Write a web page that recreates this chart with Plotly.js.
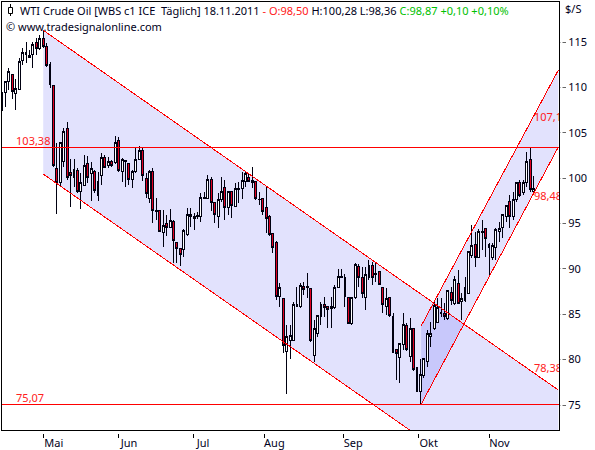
<!DOCTYPE html>
<html>
<head>
<meta charset="utf-8">
<script src="https://cdn.plot.ly/plotly-3.0.1.min.js"></script>
<style>html,body{margin:0;padding:0;background:#fff}#c{width:595px;height:450px}
.boxlayer path,.scatterlayer .js-line{shape-rendering:crispEdges !important}</style>
</head>
<body>
<div id="c"></div>
<script>
var opens = [108.1,109.4,110.6,111.4,109.3,109.8,113.0,113.6,113.3,113.6,
114.9,114.3,115.4,114.5,112.5,110.2,101.1,99.5,101.8,105.5,
100.6,100.1,100.8,98.5,99.2,101.6,100.5,100.7,98.1,100.3,
102.3,101.4,101.8,101.7,104.2,100.7,101.8,101.6,99.9,100.7,
102.1,103.1,100.0,97.8,100.7,96.4,96.4,94.0,95.0,94.6,
95.2,92.9,92.2,92.1,93.8,96.0,95.8,95.8,95.8,97.8,
97.8,99.8,97.3,95.8,97.7,99.0,96.8,98.5,96.9,98.8,
98.9,99.6,100.1,99.5,99.6,97.7,97.8,96.8,95.8,93.9,
92.9,87.0,86.7,80.9,82.1,82.1,85.9,85.8,88.1,87.9,
87.8,80.5,82.9,84.7,86.1,85.8,85.6,85.7,88.0,89.1,
89.1,86.8,84.0,86.8,90.3,89.0,86.9,89.0,90.4,89.5,
89.7,87.9,85.8,86.8,84.8,81.1,80.2,81.7,83.8,80.3,
83.4,79.1,76.5,78.2,79.8,82.5,83.4,84.1,85.1,85.1,
84.5,87.4,86.2,88.4,86.4,86.5,87.3,91.5,92.7,91.3,
94.0,94.5,92.7,91.3,92.4,94.1,94.6,95.8,97.4,95.8,
97.6,99.5,98.4,99.5,102.0,98.50];
var highs = [109.5,110.7,112.1,111.5,110.9,113.2,114.3,115.0,114.1,115.0,
115.4,115.8,116.3,114.9,112.8,110.2,103.9,103.9,105.5,106.2,
102.1,102.1,101.1,100.6,102.5,102.4,101.8,100.9,100.7,102.8,
102.5,102.3,102.0,104.6,104.5,102.2,101.9,101.7,100.9,103.4,
103.5,103.3,100.6,100.9,101.1,97.8,96.5,96.5,95.9,96.6,
95.4,92.9,92.2,94.4,96.7,96.7,96.2,96.3,98.4,98.5,
100.3,100.1,97.4,98.4,100.1,99.8,98.5,98.5,99.5,99.6,
100.7,100.7,100.5,101.2,99.7,98.5,97.8,99.1,95.9,93.9,
93.1,88.4,86.7,83.8,83.8,86.3,88.0,88.4,88.5,89.5,
87.9,84.4,84.9,86.3,86.9,85.8,86.9,88.2,90.0,90.0,
89.4,86.9,86.9,90.7,90.5,90.2,90.2,91.0,90.8,90.6,
89.7,87.9,87.9,86.8,85.1,81.2,81.8,85.1,84.0,84.6,
83.4,79.1,80.1,80.1,83.3,84.1,86.3,86.8,86.8,86.2,
87.7,88.0,89.2,89.9,87.3,89.1,91.9,94.8,94.1,94.4,
95.4,94.5,92.9,92.9,94.5,95.2,96.1,97.0,98.1,98.5,
99.6,99.8,99.8,102.9,103.38,100.28];
var lows = [107.4,107.8,109.7,108.7,107.5,109.7,112.5,112.7,113.2,112.1,
113.6,114.1,114.3,112.2,109.9,101.2,96.1,99.0,101.2,99.8,
96.8,99.0,98.4,96.6,99.1,99.5,97.5,98.4,97.5,99.2,
101.2,101.1,101.2,101.6,100.7,99.6,99.0,99.2,98.9,100.6,
102.0,99.7,97.8,97.3,95.1,95.4,94.1,92.4,93.6,94.6,
90.6,90.6,90.3,91.3,93.6,94.6,94.3,95.5,95.2,97.8,
97.8,96.4,95.1,94.5,97.4,95.4,95.9,95.6,96.8,97.3,
97.7,99.0,99.6,98.9,97.6,97.0,95.9,94.0,93.6,91.7,
86.6,85.8,80.7,76.2,80.1,82.0,85.8,85.7,87.1,86.8,
81.9,79.7,82.5,83.8,84.7,83.5,83.5,85.6,88.0,89.0,
85.8,83.9,83.8,86.7,88.0,86.8,85.5,88.8,88.2,88.6,
88.2,85.1,84.9,84.7,80.7,77.8,77.4,81.1,80.9,79.7,
78.7,76.4,75.07,78.0,79.2,81.4,83.3,84.0,84.7,84.4,
84.4,86.0,86.0,86.2,84.4,86.4,87.2,91.2,90.2,91.2,
92.1,91.3,89.3,91.0,91.0,93.0,93.4,95.2,94.5,95.4,
97.4,97.9,98.1,99.0,98.5,98.36];
var closes = [109.4,110.6,111.8,109.5,109.9,112.9,113.9,113.8,113.5,114.7,
114.3,115.4,114.5,112.4,110.3,101.4,99.5,103.9,105.1,100.1,
100.3,101.0,98.5,99.5,101.4,100.1,101.1,98.6,99.6,102.3,
101.2,101.8,101.4,103.9,100.8,102.0,101.9,99.9,100.7,102.0,
103.0,100.3,98.3,100.7,96.4,96.3,94.1,94.8,94.6,95.3,
93.1,92.2,91.6,94.2,96.0,95.8,95.6,95.9,97.9,97.9,
99.8,97.3,96.0,97.7,98.5,96.8,98.5,97.0,98.9,98.9,
99.7,100.5,99.6,99.7,97.8,97.6,96.3,95.6,93.8,92.4,
87.0,88.0,81.6,82.5,82.7,86.1,86.1,88.2,87.7,88.1,
82.1,83.4,84.9,86.1,85.7,85.5,85.8,88.0,89.2,89.2,
87.0,84.0,86.8,90.5,89.1,87.3,89.4,90.4,89.0,89.4,
88.3,86.1,86.7,84.9,80.8,80.7,81.8,83.9,81.1,83.4,
78.9,76.5,78.4,80.1,82.9,82.9,86.0,85.7,85.2,84.7,
87.6,86.5,88.8,86.2,86.7,87.9,91.9,92.6,91.2,94.1,
94.1,93.4,92.4,92.6,94.3,94.4,96.0,97.0,95.8,97.7,
99.5,98.1,99.5,101.8,98.8,98.87];

var monthLabels = ['Mai','Jun','Jul','Aug','Sep','Okt','Nov'];
var monthTicks = [12.2,34.1,55.7,76.5,99.5,121.5,142.1];
var priceTicks = [75,80,85,90,95,100,105,110,115];

var downX = [12,162.2], downUpper = [116.3,76.65], downLower = [100.45,60.8];
var upX = [122.2,162.2], upUpper = [83.7,111.9], upLower = [75.07,103.43];
var levelHigh = 103.38, levelLow = 75.07;
var levelLabels = ['103,38','75,07'];
var channelLabels = ['107,18','98,48','78,38'];
var channelLabelValues = [107.18,98.48,78.38];

var FONT = 'Noto Sans, sans-serif';
var days = opens.map(function(_, i){ return i; });
var lastX = 162.4;

function band(x, top, bottom){
  return 'M ' + x[0] + ' ' + top[0] + ' L ' + x[1] + ' ' + top[1] +
         ' L ' + x[1] + ' ' + bottom[1] + ' L ' + x[0] + ' ' + bottom[0] + ' Z';
}
function redLine(x, y){
  return {type:'scatter', mode:'lines', x:x, y:y, hoverinfo:'skip', showlegend:false, line:{color:'#ff0000', width:1}};
}
function redText(x, y, text, pos){
  return {type:'scatter', mode:'text', x:x, y:y, text:text, textposition:pos, cliponaxis:true, hoverinfo:'skip',
          showlegend:false, textfont:{family:FONT, size:11, color:'#ff2020'}};
}

var traces = [
  {type:'candlestick', x:days, open:opens, high:highs, low:lows, close:closes, whiskerwidth:0, hoverinfo:'skip', showlegend:false,
   increasing:{line:{color:'#000010', width:1}, fillcolor:'#ffffff'},
   decreasing:{line:{color:'#000010', width:1}, fillcolor:'#e00020'}},
  redLine(downX, downUpper), redLine(downX, downLower),
  redLine(upX, upUpper), redLine(upX, upLower),
  redLine([0, lastX], [levelHigh, levelHigh]), redLine([0, lastX], [levelLow, levelLow]),
  redText([4.1], [levelHigh], [levelLabels[0]], 'top right'),
  redText([4.1], [levelLow], [levelLabels[1]], 'top right'),
  redText([155.1], [channelLabelValues[0]], [channelLabels[0]], 'bottom right'),
  redText([155.1], [channelLabelValues[1]], [channelLabels[1]], 'bottom right'),
  redText([155.1], [channelLabelValues[2]], [channelLabels[2]], 'top right')
];

var W = 595, H = 450, ML = 2, MR = 36, MT = 2, MB = 20;
function px(v){ return (v - ML) / (W - ML - MR); }
function py(v){ return 1 - (v - MT) / (H - MT - MB); }

var layout = {
  width:W, height:H, paper_bgcolor:'#fff', plot_bgcolor:'#fff', showlegend:false, dragmode:false,
  margin:{l:ML, r:MR, t:MT, b:MB, pad:0},
  boxgap:0.2,
  font:{family:FONT, size:11, color:'#000020'},
  xaxis:{range:[0,lastX], tickmode:'array', tickvals:monthTicks, ticktext:monthLabels, ticks:'outside', ticklen:7, tickwidth:1,
         tickcolor:'#000', showgrid:false, zeroline:false, showline:true, linecolor:'#000', linewidth:1, mirror:true,
         ticklabelshift:10, ticklabelstandoff:-4, rangeslider:{visible:false}, tickfont:{family:FONT, size:11, color:'#000020'}, fixedrange:true},
  yaxis:{range:[72.245,119.41], side:'right', tickmode:'array', tickvals:priceTicks, ticks:'outside', ticklen:6, tickwidth:1,
         tickcolor:'#666', showgrid:false, zeroline:false, showline:true, linecolor:'#000', linewidth:1, mirror:true,
         tickfont:{family:FONT, size:11, color:'#000020'}, fixedrange:true},
  shapes:[
    {type:'path', xref:'x', yref:'y', layer:'below', line:{width:0}, fillcolor:'rgba(0,0,235,0.115)', path:band(downX, downUpper, downLower)},
    {type:'path', xref:'x', yref:'y', layer:'below', line:{width:0}, fillcolor:'rgba(0,0,235,0.115)', path:band(upX, upUpper, upLower)},
    {type:'rect', xref:'paper', yref:'paper', layer:'above', line:{width:0}, fillcolor:'#fff', x0:px(0), x1:px(560), y0:py(431), y1:py(434)},
    {type:'rect', xref:'paper', yref:'paper', layer:'above', line:{width:0}, fillcolor:'#fff', x0:px(560.4), x1:px(562.5), y0:py(0), y1:py(432)},
    {type:'line', xref:'paper', yref:'paper', layer:'above', line:{width:1, color:'#000'}, x0:px(10.5), x1:px(10.5), y0:py(4), y1:py(16)},
    {type:'rect', xref:'paper', yref:'paper', layer:'above', line:{width:1, color:'#000'}, fillcolor:'#fff', x0:px(8.5), x1:px(12.5), y0:py(7.5), y1:py(13.5)}
  ],
  annotations:[
    {xref:'paper', yref:'paper', x:px(18), y:py(10), xanchor:'left', yanchor:'middle', showarrow:false, align:'left',
     font:{family:FONT, size:11, color:'#000020'},
     text:'WTI Crude Oil [WBS c1 ICE\u00a0\u00a0Täglich] 18.11.2011 <span style="color:#ff2020">- O:98,50</span> H:100,28 L:98,36 <span style="color:#00c000">C:98,87 +0,10 +0,10%</span>'},
    {xref:'paper', yref:'paper', x:px(4), y:py(26), xanchor:'left', yanchor:'middle', showarrow:false, align:'left',
     font:{family:FONT, size:11, color:'#000020'}, text:'© www.tradesignalonline.com'},
    {xref:'paper', yref:'paper', x:px(563), y:py(9), xanchor:'left', yanchor:'middle', showarrow:false,
     font:{family:FONT, size:11, color:'#000020'}, text:'$/S'}
  ]
};
Plotly.newPlot('c', traces, layout, {displayModeBar:false, staticPlot:true});
</script>
</body>
</html>
